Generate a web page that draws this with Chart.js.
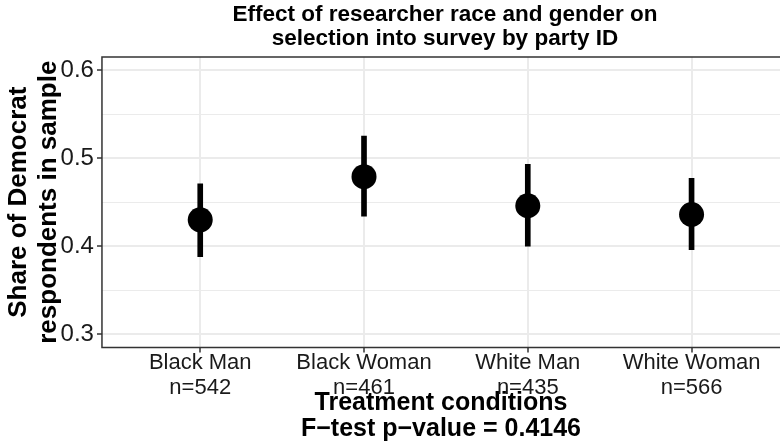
<!DOCTYPE html>
<html lang="en">
<head>
<meta charset="UTF-8">
<title>Effect of researcher race and gender on selection into survey by party ID</title>
<script src="https://cdn.jsdelivr.net/npm/chart.js"></script>
<style>
  html, body { margin: 0; padding: 0; background: #fff; overflow: hidden; }
  canvas { display: block; }
</style>
</head>
<body>
<canvas id="chart" width="780" height="448"></canvas>
<script>
const categories = ['Black Man', 'Black Woman', 'White Man', 'White Woman']
const sampleSizes = [542, 461, 435, 566]
const shares = [0.430, 0.479, 0.446, 0.436]
const lower = [0.388, 0.434, 0.400, 0.396]
const upper = [0.471, 0.525, 0.493, 0.477]
const yTicks = [0.3, 0.35, 0.4, 0.45, 0.5, 0.55, 0.6]

const FONT = "'Liberation Sans', Arial, Helvetica, sans-serif"
const isMajor = v => Math.abs(v * 10 - Math.round(v * 10)) < 1e-6

// panel border; in the original the right edge is cut off, so only three sides
const frame = {
  id: 'frame',
  afterLayout(chart) {
    // original title sits centred on the full (cropped) panel, a little right of ours
    if (chart.titleBlock) {
      chart.titleBlock.left += 4
      chart.titleBlock.right += 4
    }
  },
  afterDatasetsDraw(chart) {
    const { ctx, chartArea: a } = chart
    ctx.save()
    ctx.strokeStyle = '#333333'
    ctx.lineWidth = 1.5
    ctx.beginPath()
    ctx.moveTo(a.right + 2, a.top)
    ctx.lineTo(a.left, a.top)
    ctx.lineTo(a.left, a.bottom)
    ctx.lineTo(a.right + 2, a.bottom)
    ctx.stroke()
    ctx.restore()
  }
}

new Chart(document.getElementById('chart'), {
  type: 'scatter',
  data: {
    datasets: [
      {
        type: 'scatter',
        data: categories.map((c, i) => ({ x: i, y: shares[i] })),
        backgroundColor: '#000',
        borderWidth: 0,
        pointRadius: 12.5,
        pointHoverRadius: 12.5
      },
      {
        type: 'bar',
        data: categories.map((c, i) => ({ x: i, y: [lower[i], upper[i]] })),
        backgroundColor: '#000',
        borderWidth: 0,
        barThickness: 5
      }
    ]
  },
  options: {
    responsive: false,
    animation: false,
    events: [],
    layout: { padding: 0, autoPadding: false },
    plugins: {
      legend: { display: false },
      tooltip: { enabled: false },
      title: {
        display: true,
        fullSize: false,
        text: ['Effect of researcher race and gender on', 'selection into survey by party ID'],
        color: '#000',
        font: { family: FONT, size: 22.5, weight: 'bold', lineHeight: '24px' },
        padding: { top: 3, bottom: 6 }
      }
    },
    scales: {
      x: {
        type: 'linear',
        min: -0.6,
        max: 3.54,
        offset: false,
        afterBuildTicks: s => { s.ticks = categories.map((c, i) => ({ value: i })) },
        ticks: {
          autoSkip: false,
          maxRotation: 0,
          padding: -2.4,
          color: '#1a1a1a',
          font: { family: FONT, size: 22, lineHeight: '25px' },
          callback: v => [categories[v], 'n=' + sampleSizes[v]]
        },
        grid: {
          offset: false,
          color: '#ebebeb',
          lineWidth: 2,
          tickColor: '#333333',
          tickWidth: 1.5,
          tickLength: 5
        },
        border: { display: false },
        title: {
          display: true,
          text: ['Treatment conditions', 'F\u2212test p\u2212value = 0.4146'],
          color: '#000',
          font: { family: FONT, size: 25, weight: 'bold', lineHeight: '26px' },
          padding: { top: -7.6, bottom: 6 }
        }
      },
      y: {
        type: 'linear',
        min: 0.285,
        max: 0.615,
        afterBuildTicks: s => { s.ticks = yTicks.map(v => ({ value: v })) },
        ticks: {
          autoSkip: false,
          padding: 3,
          color: '#1a1a1a',
          font: { family: FONT, size: 24 },
          callback: v => isMajor(v) ? v.toFixed(1) : ''
        },
        grid: {
          color: '#ebebeb',
          lineWidth: c => isMajor(c.tick.value) ? 2 : 1,
          tickColor: c => isMajor(c.tick.value) ? '#333333' : 'rgba(0,0,0,0)',
          tickWidth: 1.5,
          tickLength: 5
        },
        border: { display: false },
        title: {
          display: true,
          text: ['Share of Democrat', 'respondents in sample'],
          color: '#000',
          font: { family: FONT, size: 26, weight: 'bold', lineHeight: '30px' },
          padding: { top: 4, bottom: -6.4 }
        }
      }
    }
  },
  plugins: [frame]
})
</script>
</body>
</html>
